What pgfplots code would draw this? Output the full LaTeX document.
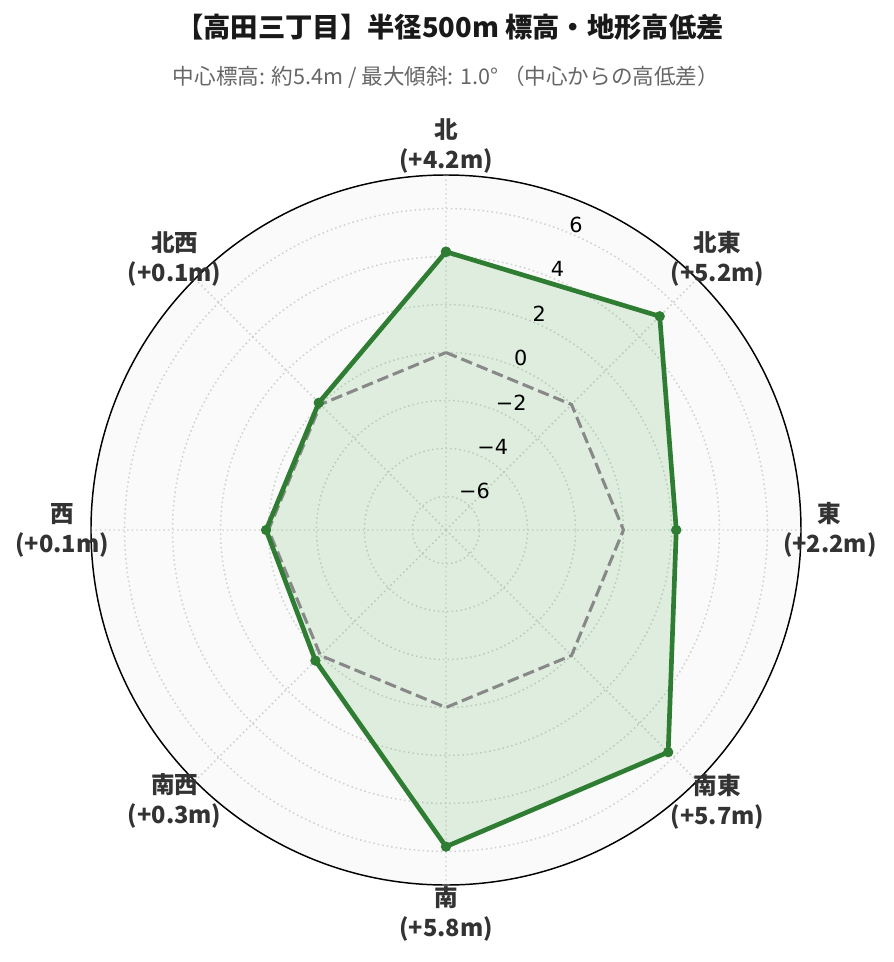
\documentclass[border=0pt]{standalone}
\usepackage{fontspec}
\setmainfont{DejaVu Sans}
\newfontfamily\cjk{Noto Sans CJK JP}
\usepackage{pgfplots}
\pgfplotsset{compat=1.18}
\usepgfplotslibrary{polar}
\usepackage{pgfplotstable}
\definecolor{lgreen}{HTML}{2E7D32}
\definecolor{fillc}{HTML}{4CAF50}
\definecolor{bgc}{HTML}{FAFAFA}
\definecolor{gridc}{HTML}{CFCFCF}
\definecolor{labc}{HTML}{333333}
\definecolor{subc}{HTML}{666666}
\definecolor{zeroc}{HTML}{888888}

\pgfplotstableread{
ang v
90 4.2
45 5.2
0 2.2
-45 5.7
-90 5.8
-135 0.3
-180 0.1
-225 0.1
-270 4.2
}\elev
\pgfplotstableread{
ang v
90 0
45 0
0 0
-45 0
-90 0
-135 0
-180 0
-225 0
-270 0
}\zero

\begin{document}
\begin{tikzpicture}
\path[use as bounding box] (-334.5pt,-324pt) rectangle (335.25pt,397.5pt);
\begin{polaraxis}[
  at={(0,0)}, anchor=center,
  scale only axis, width=532.5pt, height=532.5pt,
  ymin=0, ymax=14.8,
  xtick={0,45,...,315}, xticklabels={},
  ytick={1.4,3.4,5.4,7.4,9.4,11.4,13.4}, yticklabels={},
  grid=major,
  major grid style={gridc, line width=1.1pt, dash pattern=on 1.1pt off 2.3pt},
  major tick length=0pt,
  axis line style={black, line width=1.1pt},
  y axis line style={draw=none},
  axis background/.style={fill=bgc},
  clip=false,
]
\addplot[draw=none, fill=fillc, fill opacity=0.16] table[x=ang, y expr=\thisrow{v}+7.4] {\elev};
\addplot[zeroc, line width=2.3pt, dash pattern=on 8.7pt off 3.75pt, no markers] table[x=ang, y expr=\thisrow{v}+7.4] {\zero};
\addplot[lgreen, line width=3.5pt, line join=round, mark=*, mark size=3.6pt, mark options={solid, fill=lgreen, draw=lgreen, line width=0.5pt}] table[x=ang, y expr=\thisrow{v}+7.4] {\elev};

\tikzset{dirlab/.style={font=\cjk\bfseries\fontsize{17.7}{22.5}\selectfont, text=labc, align=center}}
\node[dirlab] at (axis cs:90,16.0) {北\\(+4.2m)};
\node[dirlab] at (axis cs:45,16.0) {北東\\(+5.2m)};
\node[dirlab] at (axis cs:0,16.0) {東\\(+2.2m)};
\node[dirlab] at (axis cs:-45,16.0) {南東\\(+5.7m)};
\node[dirlab] at (axis cs:-90,16.0) {南\\(+5.8m)};
\node[dirlab] at (axis cs:-135,16.0) {南西\\(+0.3m)};
\node[dirlab] at (axis cs:180,16.0) {西\\(+0.1m)};
\node[dirlab] at (axis cs:135,16.0) {北西\\(+0.1m)};

\tikzset{rlab/.style={anchor=west, font=\fontsize{15.6}{18}\selectfont, yshift=6pt, inner sep=0pt}}
\node[rlab] at (axis cs:67.5,1.4) {−6};
\node[rlab] at (axis cs:67.5,3.4) {−4};
\node[rlab] at (axis cs:67.5,5.4) {−2};
\node[rlab] at (axis cs:67.5,7.4) {0};
\node[rlab] at (axis cs:67.5,9.4) {2};
\node[rlab] at (axis cs:67.5,11.4) {4};
\node[rlab] at (axis cs:67.5,13.4) {6};
\end{polaraxis}
\node[font=\cjk\bfseries\fontsize{20.5}{25}\selectfont, text=black!90] at (3pt,377.25pt) {【高田三丁目】半径500m 標高・地形高低差};
\node[font=\cjk\fontsize{16.2}{19}\selectfont, text=subc] at (0pt,339.75pt) {中心標高: 約5.4m / 最大傾斜: 1.0° （中心からの高低差）};
\end{tikzpicture}
\end{document}
